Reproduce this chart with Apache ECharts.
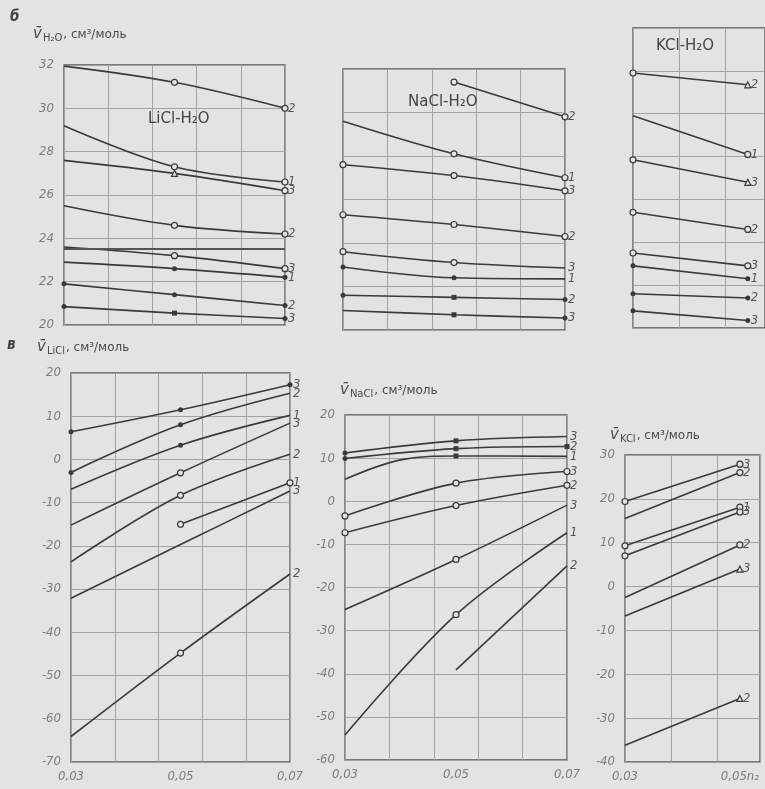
<!DOCTYPE html>
<html>
<head>
<meta charset="utf-8">
<script src="https://cdn.jsdelivr.net/npm/echarts@6/dist/echarts.min.js"></script>
<style>
  html, body { margin: 0; padding: 0; background: #e3e3e0; }
  #chart { width: 765px; height: 789px; }
</style>
</head>
<body>
<div id="chart"></div>
<script>
// Partial molar volumes of water and salt in LiCl, NaCl, KCl solutions
// vs. salt mole fraction, curves 1–3.

// ---- x values (mole fraction n2) ----
const xFull = [0.03, 0.05, 0.07];
const xKCl = [0.03, 0.05];
const xNaClSalt = [0.03, 0.04, 0.05, 0.07];

// ---- б: partial molar volume of water, cm3/mol ----
const waterLiCl = [
  [31.95, 31.2, 30.0],
  [29.2, 27.3, 26.6],
  [27.6, 27.0, 26.2],
  [25.5, 24.6, 24.2],
  [23.6, 23.2, 22.6],
  [22.9, 22.6, 22.2],
  [21.9, 21.4, 20.9],
  [20.85, 20.55, 20.3]
];
const waterLiClCurve = ['2', '1', '3', '2', '3', '1', '2', '3'];

const waterNaCl = [
  [null, 31.4, 29.8],
  [29.6, 28.1, 27.0],
  [27.6, 27.1, 26.4],
  [25.3, 24.85, 24.3],
  [23.6, 23.1, 22.85],
  [22.9, 22.4, 22.35],
  [21.6, 21.5, 21.4],
  [20.9, 20.7, 20.55]
];
const waterNaClCurve = ['2', '1', '3', '2', '3', '1', '2', '3'];

const waterKCl = [
  [31.9, 31.35],
  [29.9, 28.1],
  [27.85, 26.8],
  [25.4, 24.6],
  [23.5, 22.9],
  [22.9, 22.3],
  [21.6, 21.4],
  [20.8, 20.35]
];
const waterKClCurve = ['2', '1', '3', '2', '3', '1', '2', '3'];

// ---- в: partial molar volume of the salt, cm3/mol ----
const saltLiCl = [
  [6.4, 11.5, 17.3],
  [-3.0, 8.0, 15.3],
  [-6.9, 3.3, 10.2],
  [-15.2, -3.1, 8.4],
  [-23.7, -8.3, 1.2],
  [null, -15.0, -5.4],
  [-32.1, -19.7, -7.3],
  [-64.1, -44.8, -26.5]
];
const saltLiClCurve = ['3', '2', '1', '3', '2', '1', '3', '2'];

const saltNaCl = [
  [11.2, null, 14.0, 15.0],
  [9.9, null, 12.2, 12.7],
  [5.1, 9.6, 10.5, 10.4],
  [-3.4, null, 4.2, 6.9],
  [-7.3, null, -1.0, 3.7],
  [-25.1, null, -13.5, -0.9],
  [-54.2, null, -26.3, -7.3],
  [null, null, -39.1, -15.0]
];
const saltNaClCurve = ['3', '2', '1', '3', '2', '3', '1', '2'];

const saltKCl = [
  [19.4, 27.9],
  [15.5, 26.0],
  [9.3, 18.1],
  [7.0, 17.0],
  [-2.5, 9.5],
  [-6.7, 4.0],
  [-36.2, -25.5]
];
const saltKClCurve = ['3', '2', '1', '3', '2', '3', '2'];

// tick labels
const xTickValues = [0.03, 0.05, 0.07];
const xTickText = ['0,03', '0,05', '0,07'];
const xTickTextKCl = ['0,03', '0,05n₂'];

// level of the axis break in the LiCl–H2O water panel
const waterLiClBreak = [23.5];

// ---- point markers: o open circle, * filled dot, ^ open triangle, # filled square ----
const marksWaterLiCl = [['', 'o', 'o'], ['', 'o', 'o'], ['', '^', 'o'], ['', 'o', 'o'], ['', 'o', 'o'], ['', '*', '*'], ['*', '*', '*'], ['*', '#', '*']];
const marksWaterNaCl = [['', 'o', 'o'], ['', 'o', 'o'], ['o', 'o', 'o'], ['o', 'o', 'o'], ['o', 'o', ''], ['*', '*', ''], ['*', '#', '*'], ['', '#', '*']];
const marksWaterKCl = [['o', '^'], ['', 'o'], ['o', '^'], ['o', 'o'], ['o', 'o'], ['*', '*'], ['*', '*'], ['*', '*']];
const marksSaltLiCl = [['*', '*', '*'], ['*', '*', ''], ['', '*', ''], ['', 'o', ''], ['', 'o', ''], ['', 'o', 'o'], ['', '', ''], ['', 'o', '']];
const marksSaltNaCl = [['*', '', '#', ''], ['*', '', '#', '#'], ['', '', '#', ''], ['o', '', 'o', 'o'], ['o', '', 'o', 'o'], ['', '', 'o', ''], ['', '', 'o', ''], ['', '', '', '']];
const marksSaltKCl = [['o', 'o'], ['', 'o'], ['o', 'o'], ['o', 'o'], ['', 'o'], ['', '^'], ['', '^']];

const FONT = '"DejaVu Sans Condensed", "Liberation Sans Narrow", "DejaVu Sans", sans-serif';
const FONT_WIDE = '"DejaVu Sans", sans-serif';
const BG = '#e3e3e0';
const INK = '#3a3a3a';
const GRIDC = '#a2a2a0';
const TICKC = '#7c7c7a';

const panels = [
  { grid: { left: 64, top: 65, width: 221, height: 260 }, xMax: 0.07, yMin: 20, yMax: 32, yInt: 2, yLabels: true, xLabels: null,
    xs: xFull, ys: waterLiCl, names: waterLiClCurve, marks: marksWaterLiCl },
  { grid: { left: 343, top: 69, width: 222, height: 261 }, xMax: 0.07, yMin: 20, yMax: 32, yInt: 2, yLabels: false, xLabels: null,
    xs: xFull, ys: waterNaCl, names: waterNaClCurve, marks: marksWaterNaCl },
  { grid: { left: 633, top: 28, width: 132, height: 300 }, xMax: 0.053, yMin: 20, yMax: 34, yInt: 2, yLabels: false, xLabels: null,
    xs: xKCl, ys: waterKCl, names: waterKClCurve, marks: marksWaterKCl },
  { grid: { left: 71, top: 373, width: 219, height: 389 }, xMax: 0.07, yMin: -70, yMax: 20, yInt: 10, yLabels: true, xLabels: xTickText,
    xs: xFull, ys: saltLiCl, names: saltLiClCurve, marks: marksSaltLiCl },
  { grid: { left: 345, top: 415, width: 222, height: 345 }, xMax: 0.07, yMin: -60, yMax: 20, yInt: 10, yLabels: true, xLabels: xTickText,
    xs: xNaClSalt, ys: saltNaCl, names: saltNaClCurve, marks: marksSaltNaCl },
  { grid: { left: 625, top: 455, width: 135, height: 307 }, xMax: 0.0535, yMin: -40, yMax: 30, yInt: 10, yLabels: true, xLabels: xTickTextKCl,
    xs: xKCl, ys: saltKCl, names: saltKClCurve, marks: marksSaltKCl }
];

function markerStyle(code) {
  switch (code) {
    case 'o': return { symbol: 'circle', symbolSize: 6, itemStyle: { color: BG, borderColor: INK, borderWidth: 1.2 } };
    case '*': return { symbol: 'circle', symbolSize: 5, itemStyle: { color: INK, borderColor: INK, borderWidth: 0 } };
    case '^': return { symbol: 'triangle', symbolSize: 6, itemStyle: { color: BG, borderColor: INK, borderWidth: 1.2 } };
    case '#': return { symbol: 'rect', symbolSize: 5, itemStyle: { color: INK, borderColor: INK, borderWidth: 0 } };
    default: return { symbol: 'none' };
  }
}

const grids = [], xAxes = [], yAxes = [], series = [];

panels.forEach((p, i) => {
  grids.push(Object.assign({ show: true, borderColor: '#555', borderWidth: 1.3, backgroundColor: 'transparent' }, p.grid));
  // vertical grid lines every 0.008
  xAxes.push({
    type: 'value', gridIndex: i, min: 0.03, max: p.xMax, interval: 0.008, position: 'top',
    axisLabel: { show: false }, axisTick: { show: false }, axisLine: { show: false },
    splitLine: { show: true, lineStyle: { color: GRIDC, width: 1 } }
  });
  // concentration labels
  xAxes.push({
    type: 'value', gridIndex: i, min: 0.03, max: p.xMax, interval: 0.02, position: 'bottom',
    axisTick: { show: false }, axisLine: { show: false }, splitLine: { show: false },
    axisLabel: {
      show: !!p.xLabels, color: TICKC, fontStyle: 'italic', fontFamily: FONT, fontSize: 13, margin: 8,
      showMinLabel: true, showMaxLabel: true,
      formatter: v => {
        if (!p.xLabels) return '';
        const k = xTickValues.findIndex(t => Math.abs(t - v) < 1e-6);
        return k >= 0 && k < p.xLabels.length ? p.xLabels[k] : '';
      }
    }
  });
  yAxes.push({
    type: 'value', gridIndex: i, min: p.yMin, max: p.yMax, interval: p.yInt,
    axisTick: { show: false }, axisLine: { show: false },
    splitLine: { show: true, lineStyle: { color: GRIDC, width: 1 } },
    axisLabel: { show: p.yLabels, color: TICKC, fontStyle: 'italic', fontFamily: FONT, fontSize: 13, margin: 10 }
  });

  p.ys.forEach((vals, s) => {
    const data = [];
    vals.forEach((y, k) => {
      if (y === null) return;
      data.push(Object.assign({ value: [p.xs[k], y] }, markerStyle(p.marks[s][k])));
    });
    const ser = {
      type: 'line', xAxisIndex: 2 * i + 1, yAxisIndex: i, name: p.names[s],
      data: data, smooth: 0.35, showSymbol: true, z: 3,
      lineStyle: { color: INK, width: 1.6 },
      itemStyle: { color: INK },
      endLabel: {
        show: true, formatter: p.names[s], color: '#555', fontStyle: 'italic',
        fontFamily: FONT, fontSize: 13, distance: 3
      },
      emphasis: { disabled: true }
    };
    if (i === 0 && s === 4) {
      ser.markLine = {
        silent: true, symbol: 'none', label: { show: false },
        lineStyle: { color: '#555', width: 2, type: 'solid' },
        data: waterLiClBreak.map(v => ({ yAxis: v }))
      };
    }
    series.push(ser);
  });
});

const richAxis = {
  v: { fontSize: 15, fontStyle: 'italic', fontFamily: FONT_WIDE, fill: '#4a4a4a' },
  s: { fontSize: 10, fontFamily: FONT_WIDE, fill: '#4a4a4a', padding: [7, 1, 0, 1] },
  t: { fontSize: 12, fontFamily: FONT_WIDE, fill: '#4a4a4a' }
};
function axisTitle(x, y, sub) {
  return {
    type: 'text', left: x, top: y, z: 10,
    style: { text: '{v|v̄}{s|' + sub + '}{t|, см³/моль}', rich: richAxis }
  };
}
function panelTitle(x, y, txt) {
  return {
    type: 'text', left: x, top: y, z: 10,
    style: { text: txt, fontSize: 15, fontFamily: FONT_WIDE, fill: '#444' }
  };
}

const chart = echarts.init(document.getElementById('chart'), null, { renderer: 'canvas' });
chart.setOption({
  animation: false,
  backgroundColor: BG,
  grid: grids,
  xAxis: xAxes,
  yAxis: yAxes,
  series: series,
  graphic: [
    { type: 'text', left: 10, top: 10, style: { text: 'б', fontSize: 15, fontStyle: 'italic', fontWeight: 'bold', fontFamily: FONT, fill: '#444' } },
    axisTitle(33, 27, 'H₂O'),
    panelTitle(148, 112, 'LiCl-H₂O'),
    panelTitle(408, 95, 'NaCl-H₂O'),
    panelTitle(656, 39, 'KCl-H₂O'),
    { type: 'text', left: 7, top: 338, style: { text: 'в', fontSize: 15, fontStyle: 'italic', fontWeight: 'bold', fontFamily: FONT, fill: '#444' } },
    axisTitle(37, 340, 'LiCl'),
    axisTitle(340, 383, 'NaCl'),
    axisTitle(610, 428, 'KCl')
  ]
});
</script>
</body>
</html>
